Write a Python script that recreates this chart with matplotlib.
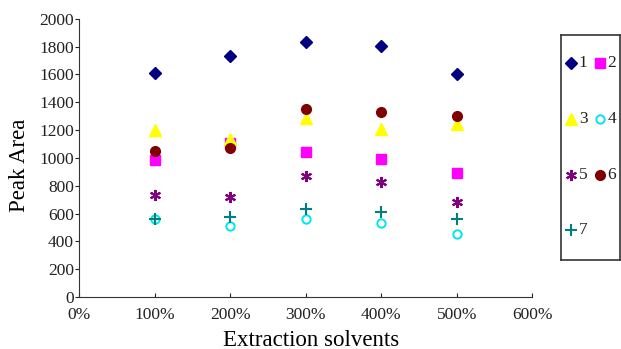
import numpy as np
import matplotlib
matplotlib.use("Agg")
import matplotlib.pyplot as plt

plt.rcParams['font.family'] = ['Liberation Serif', 'DejaVu Serif']

# extraction solvent levels (percent)
solvents = [100, 200, 300, 400, 500]
s1 = [1614, 1732, 1830, 1804, 1607]
s2 = [983, 1105, 1040, 992, 895]
s3 = [1201, 1137, 1290, 1206, 1247]
s4 = [561, 511, 561, 535, 453]
s5 = [736, 722, 871, 830, 683]
s6 = [1053, 1072, 1355, 1329, 1305]
s7 = [563, 578, 633, 614, 563]
names = ['1', '2', '3', '4', '5', '6', '7']

styles = [
    dict(marker='D', color='#000080', ms=6),
    dict(marker='s', color='#ff00ff', ms=6.5),
    dict(marker='^', color='#ffff00', ms=8),
    dict(marker='o', color='#00e5ee', ms=6, mfc='none', mew=1.4),
    dict(marker=(6, 2, 0), color='#800080', ms=8, mew=1.5),
    dict(marker='o', color='#800000', ms=7),
    dict(marker='+', color='#007f7f', ms=8, mew=1.5),
]

fig = plt.figure(figsize=(6.21, 3.49), dpi=100)
ax = fig.add_axes([0.128, 0.149, 0.729, 0.797])

for vals, st, nm in zip([s1, s2, s3, s4, s5, s6, s7], styles, names):
    ax.plot(solvents, vals, ls='none', label=nm, **st)

ax.set_xlim(0, 600)
ax.set_ylim(0, 2000)
ax.set_xticks(range(0, 601, 100))
ax.set_xticklabels([f'{v}%' for v in range(0, 601, 100)])
ax.set_yticks(range(0, 2001, 200))
ax.tick_params(labelsize=12.5, length=3, colors='#222222')
ax.tick_params(axis='x', direction='in', pad=7)
ax.tick_params(axis='y', direction='out', pad=1)
ax.spines['top'].set_visible(False)
ax.spines['right'].set_visible(False)
for sp in ['left', 'bottom']:
    ax.spines[sp].set_color('#333333')

ax.set_xlabel('Extraction solvents', fontsize=16.5)
ax.xaxis.set_label_coords(0.512, -0.117)
ax.set_ylabel('Peak Area', fontsize=16.5)
ax.yaxis.set_label_coords(-0.11, 0.475)

# legend box: 2 columns, 4 rows, drawn in its own axes
lax = fig.add_axes([561 / 621, 1 - 260 / 349, 59 / 621, 225 / 349])
lax.set_xticks([])
lax.set_yticks([])
lax.set_xlim(0, 1)
lax.set_ylim(0, 1)
for sp in lax.spines.values():
    sp.set_color('#333333')
    sp.set_linewidth(1.2)
rows = [0.876, 0.627, 0.378, 0.133]
for i, (st, nm) in enumerate(zip(styles, names)):
    r, c = divmod(i, 2)
    mx = 0.17 if c == 0 else 0.66
    lax.plot([mx], [rows[r]], ls='none', **st)
    lax.text(mx + 0.13, rows[r], nm, fontsize=12.5, va='center', ha='left',
             color='#222222')

fig.savefig('out.png', dpi=100)
